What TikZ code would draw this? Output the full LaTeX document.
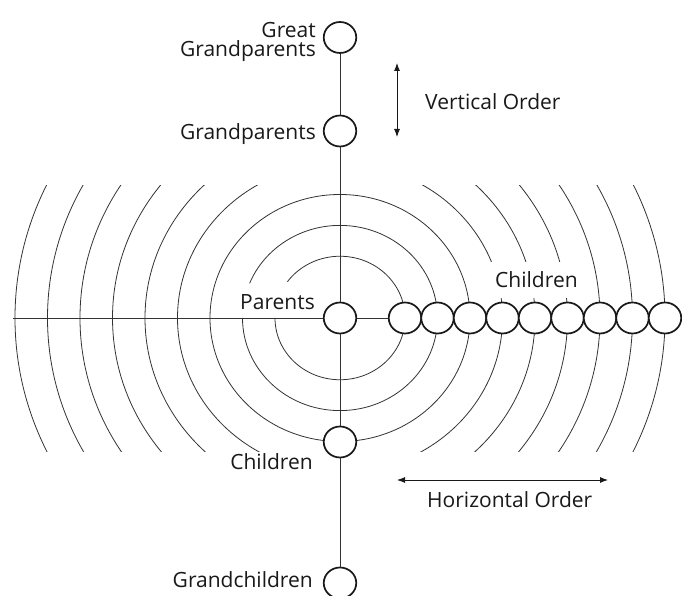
\documentclass[tikz,border=0pt]{standalone}
\usepackage{fontspec}
\setmainfont{Open Sans}
\usetikzlibrary{shapes.geometric,arrows.meta}
\begin{document}
\begin{tikzpicture}[x=1bp,y=1bp,
  ring/.style={ellipse,draw=black!90,line width=1.7bp,fill=white,minimum width=32.5bp,minimum height=31bp,inner sep=0pt},
  wave/.style={draw=black!80,line width=0.8bp},
  link/.style={draw=black!80,line width=0.8bp},
  lbl/.style={font=\fontsize{21bp}{19bp}\selectfont,text=black!90,inner sep=0pt},
  order/.style={draw=black!90,line width=0.9bp,{Latex[length=8bp,width=6bp]}-{Latex[length=8bp,width=6bp]}}
]
\useasboundingbox (0,0) rectangle (682,596);
\fill[white] (0,0) rectangle (682,596);

% outer waves, clipped to a horizontal band
\begin{scope}
  \clip (0,144) rectangle (682,410);
  \foreach \r in {162.5,195,227.5,260,292.5,325}
    \draw[wave] (340,278) ellipse [x radius=\r bp, y radius={0.95*\r bp}];
\end{scope}
% inner waves
\draw[wave] (340,278) ellipse [x radius=130bp, y radius=123.5bp];
\draw[wave] (242.5,278) arc [start angle=180, end angle=518, x radius=97.5bp, y radius=92.6bp];
\draw[wave] (275,278) arc [start angle=180, end angle=504, x radius=65bp, y radius=61.75bp];

% circles
\node[ring] (gg) at (340,558.5) {};
\node[ring] (gp) at (340,465) {};
\node[ring] (par) at (340,278) {};
\node[ring] (ch) at (340,154) {};
\node[ring] (gc) at (340,13) {};
\foreach \i in {0,...,8}
  \node[ring] (c\i) at ({405+32.5*\i},278) {};

% connectors
\coordinate (hl) at (13,278);
\draw[link] (hl) -- (par);
\draw[link] (par) -- (c0);
\draw[link] (gg) -- (gp);
\draw[link] (gp) -- (par);
\draw[link] (par) -- (ch);
\draw[link] (ch) -- (gc);

% order arrows
\coordinate (va1) at (397,533);
\coordinate (va2) at (397,459);
\draw[order] (va1) -- (va2);
\coordinate (ha1) at (397,116);
\coordinate (ha2) at (608,116);
\draw[order] (ha1) -- (ha2);

% labels
\node[lbl,anchor=base east] (tgreat) at (316,558) {Great};
\node[lbl,anchor=base east] (tggp) at (316,539) {Grandparents};
\node[lbl,anchor=base east] (tgp) at (316,456) {Grandparents};
\node[lbl,anchor=base west] (tvo) at (425,486) {Vertical Order};
\node[lbl,anchor=base east] (tpar) at (315,286) {Parents};
\node[lbl,anchor=base west,fill=white,inner xsep=9bp,inner ysep=10bp] (tchr) at (486,308) {Children};
\node[lbl,anchor=base east] (tchb) at (313,126) {Children};
\node[lbl,anchor=base west] (tho) at (427,88) {Horizontal Order};
\node[lbl,anchor=base east] (tgc) at (313,8) {Grandchildren};
\end{tikzpicture}
\end{document}
